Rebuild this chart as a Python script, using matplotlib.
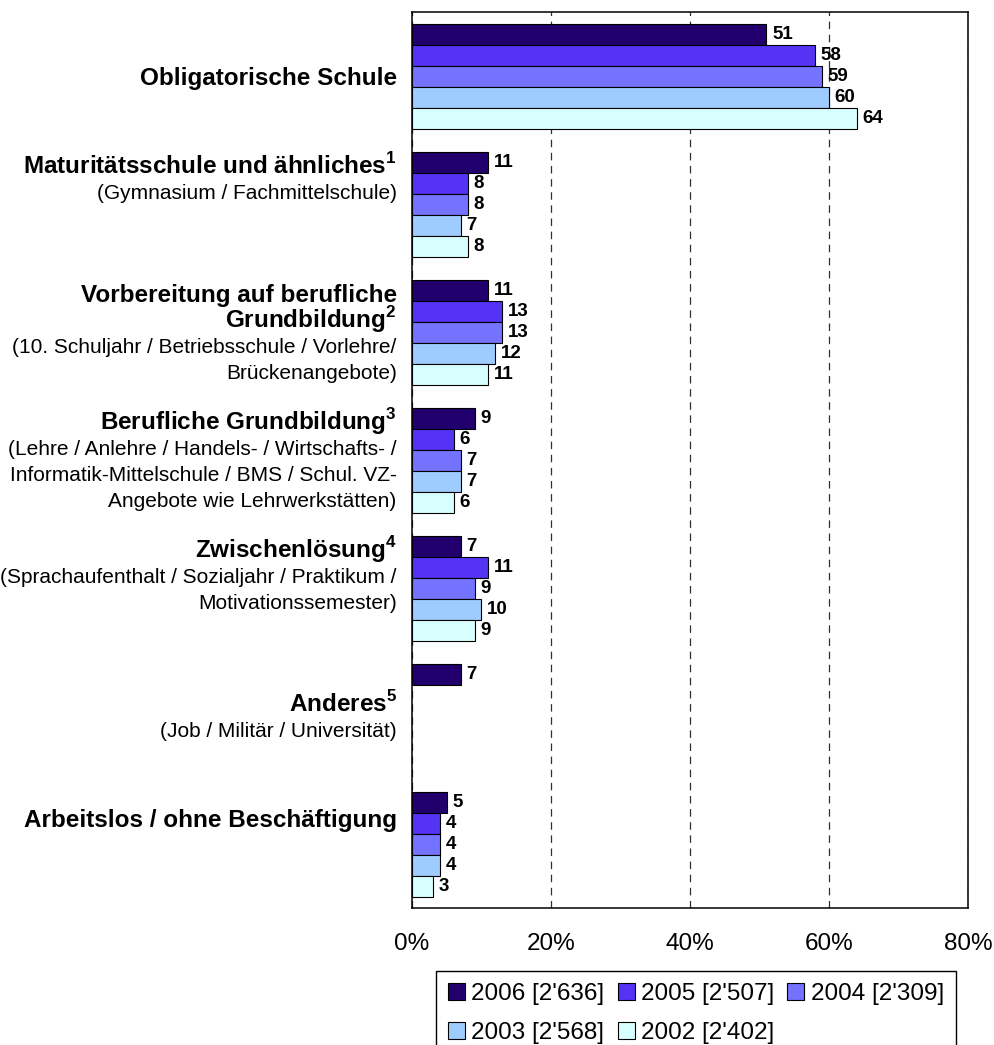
import numpy as np
import matplotlib
matplotlib.use("Agg")
import matplotlib.pyplot as plt

plt.rcParams['font.family'] = ['Liberation Sans', 'DejaVu Sans']
plt.rcParams['mathtext.fontset'] = 'custom'
plt.rcParams['mathtext.rm'] = 'Liberation Sans'
plt.rcParams['mathtext.bf'] = 'Liberation Sans:bold'

# categories, top to bottom: (line text, bold) ; "" = blank line kept for Excel-like centring
categories = [
    [("Obligatorische Schule", True)],
    [(r"Maturitätsschule und ähnliches$^{\mathbf{1}}$", True),
     ("(Gymnasium / Fachmittelschule)", False), ("", False), ("", False)],
    [("Vorbereitung auf berufliche", True), (r"Grundbildung$^{\mathbf{2}}$", True),
     ("(10. Schuljahr / Betriebsschule / Vorlehre/", False),
     ("Brückenangebote)", False)],
    [(r"Berufliche Grundbildung$^{\mathbf{3}}$", True),
     ("(Lehre / Anlehre / Handels- / Wirtschafts- /", False),
     ("Informatik-Mittelschule / BMS / Schul. VZ-", False),
     ("Angebote wie Lehrwerkstätten)", False)],
    [(r"Zwischenlösung$^{\mathbf{4}}$", True),
     ("(Sprachaufenthalt / Sozialjahr / Praktikum /", False),
     ("Motivationssemester)", False), ("", False)],
    [(r"Anderes$^{\mathbf{5}}$", True), ("(Job / Militär / Universität)", False)],
    [("Arbeitslos / ohne Beschäftigung", True), ("", False), ("", False)],
]

series = ["2006 [2'636]", "2005 [2'507]", "2004 [2'309]", "2003 [2'568]", "2002 [2'402]"]
colors = ["#21006E", "#5533F5", "#7373FF", "#9ECCFF", "#D8FFFF"]

v2006 = [51, 11, 11, 9, 7, 7, 5]
v2005 = [58, 8, 13, 6, 11, None, 4]
v2004 = [59, 8, 13, 7, 9, None, 4]
v2003 = [60, 7, 12, 7, 10, None, 4]
v2002 = [64, 8, 11, 6, 9, None, 3]
values = [v2006, v2005, v2004, v2003, v2002]

xticks = [0, 20, 40, 60, 80]

fig = plt.figure(figsize=(9.95, 10.45), dpi=100)
ax = fig.add_axes([412 / 995, 1 - 908 / 1045, 556 / 995, 896 / 1045])

n_cat = len(categories)
h = 21 / 128
centers = np.arange(n_cat)

containers = []
for j, (name, vals, col) in enumerate(zip(series, values, colors)):
    idx = [i for i, v in enumerate(vals) if v is not None]
    w = [vals[i] for i in idx]
    y = centers[idx] + (j - 2) * h
    bc = ax.barh(y, w, height=h, color=col, edgecolor="black", linewidth=0.8,
                 label=name, zorder=3)
    ax.bar_label(bc, labels=[str(v) for v in w], padding=4,
                 fontsize=13.5, fontweight="bold", zorder=4)
    containers.append(bc)

ax.set_xlim(0, 80)
ax.set_ylim(n_cat - 0.5, -0.5)
ax.set_xticks(xticks)
ax.set_xticklabels([f"{t}%" for t in xticks], fontsize=17.5)
ax.set_yticks([])
ax.tick_params(axis="x", length=0, pad=18)
ax.xaxis.grid(True, linestyle=(0, (6, 4.5)), color="#303030", linewidth=0.9)
ax.set_axisbelow(True)
for s in ax.spines.values():
    s.set_linewidth(1.1)
    s.set_color("black")

# category labels, right aligned left of the axis (baseline placed below line centre)
line_px = 26
for i, lines in enumerate(categories):
    n = len(lines)
    for k, (txt, bold) in enumerate(lines):
        if not txt:
            continue
        half_cap = 9 if bold else 7.5
        dy = -((k - (n - 1) / 2) * line_px + half_cap) * 72 / 100
        ax.annotate(txt, xy=(0, i), xycoords=("axes fraction", "data"),
                    xytext=(-11, dy), textcoords="offset points",
                    ha="right", va="baseline",
                    fontsize=17.5 if bold else 15,
                    fontweight="bold" if bold else "normal")

order = [0, 3, 1, 4, 2]
leg = fig.legend([containers[k] for k in order], [series[k] for k in order],
                 loc="upper left", bbox_to_anchor=(436 / 995, 1 - 971 / 1045),
                 ncol=3, fontsize=17.5, frameon=True, fancybox=False,
                 edgecolor="black", framealpha=1, borderaxespad=0,
                 handlelength=0.7, handleheight=0.7, handletextpad=0.25,
                 columnspacing=0.55, labelspacing=0.7, borderpad=0.5)
leg.get_frame().set_linewidth(1.0)

fig.savefig("out.png", dpi=100)
